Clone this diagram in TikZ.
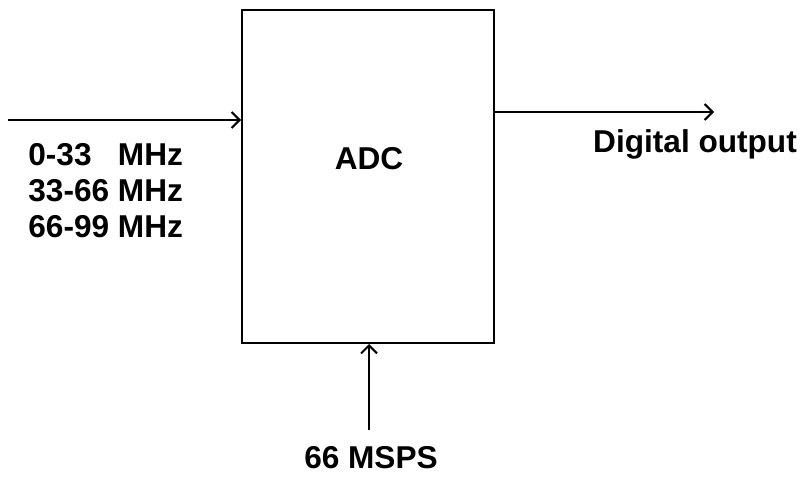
\documentclass[tikz,border=0pt]{standalone}
\usepackage{fontspec}
\setmainfont{Liberation Sans}
\usepackage{tikz}
\usetikzlibrary{arrows.meta,positioning}

\begin{document}
\begin{tikzpicture}[
  x=0.5pt,y=-0.5pt,
  adcbox/.style={draw,line width=1pt,minimum width=126pt,minimum height=166.5pt,inner sep=0pt},
  lbl/.style={font=\bfseries\fontsize{15.8}{18}\selectfont,inner sep=0pt,align=left},
  arr/.style={-{Straight Barb[length=4pt,width=8pt,line width=1pt]},line width=1pt},
]
\useasboundingbox (0,0) rectangle (806,480);
% ADC block
\node[adcbox] (adc) at (368,176.5) {};
\node[lbl] (adctext) at (369,159) {ADC};
% inputs and output
\coordinate (src) at (8,120);
\coordinate (dst) at (714,112);
\coordinate (clk) at (369,430);
\node[lbl,anchor=west] (bands) at (28,194)
  {\begin{tabular}{@{}l@{ }l@{}}0-33 & MHz\\33-66 & MHz\\66-99 & MHz\end{tabular}};
\node[lbl] (digout) at (695,144) {Digital output};
\node[lbl] (rate) at (371,458) {66 MSPS};

\draw[arr] (src) -- (src -| adc.west);
\draw[arr] (adc.east |- dst) -- (dst);
\draw[arr] (clk) -- (clk |- adc.south);
\end{tikzpicture}
\end{document}
